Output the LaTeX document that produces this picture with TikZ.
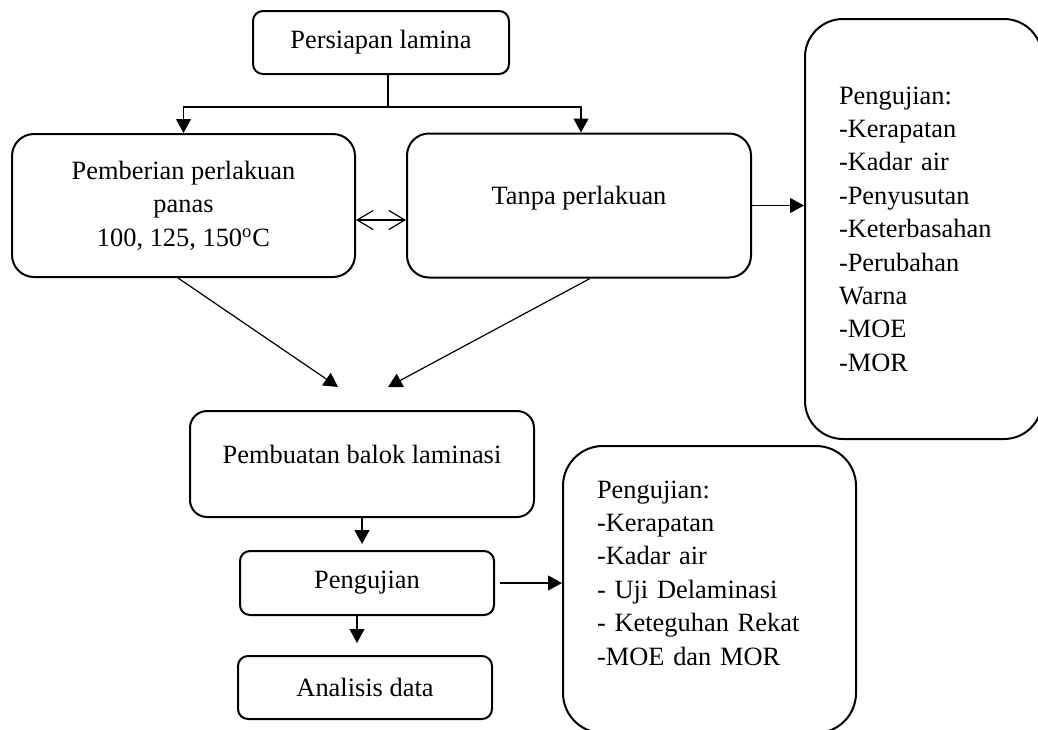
\documentclass[tikz,border=0pt]{standalone}
\usepackage{fontspec}
\setmainfont{Liberation Serif}
\usetikzlibrary{
  arrows.meta,
  positioning
}
\tikzset{
  % Rounded process box: corner radius as argument
  box/.style={
    rectangle, rounded corners=#1,
    draw=black, line width=1pt,
    inner sep=0pt, align=center,
    font=\fontsize{13.2}{16.7}\selectfont
  },
  box/.default=5pt,
  % Test list box
  lst/.style={
    box=#1, align=left, inner xsep=17pt
  },
  % Plain connector
  ln/.style={line width=0.6pt},
  % Arrow
  arr/.style={
    -{Triangle[length=7pt,width=7.5pt]},
    line width=0.6pt
  },
  % Open double arrow
  dbl/.style={
    {Straight Barb[length=8pt,width=9.5pt]}-{Straight Barb[length=8pt,width=9.5pt]},
    line width=0.6pt
  }
}

\begin{document}
\begin{tikzpicture}[x=0.5pt, y=-0.5pt]
  \useasboundingbox (0,0) rectangle (1038,729);

  \node[box, minimum width=128pt, minimum height=31.5pt] (prep) at (381,42.5) {Persiapan lamina};
  \node[box=11pt, minimum width=171.5pt, minimum height=71.5pt] (panas) at (183.5,205.5)
    {Pemberian perlakuan\\ panas\\ 100, 125, 150\textsuperscript{o}C};
  \node[box=11pt, minimum width=172pt, minimum height=72pt, text height=9pt, text depth=10pt,
        right=25pt of panas] (tanpa) {Tanpa perlakuan};
  \node[lst=19pt, minimum width=117.5pt, minimum height=210pt, text width=84.5pt] (uji1) at (923.5,229)
    {Pengujian:\\ -Kerapatan\\ -Kadar air\\ -Penyusutan\\ -Keterbasahan\\ -Perubahan\\ Warna\\ -MOE\\ -MOR};

  \node[box=8.5pt, minimum width=172pt, minimum height=53pt, text height=9pt, text depth=10pt] (balok) at (362,464)
    {Pembuatan balok laminasi};
  \node[box, minimum width=127pt, minimum height=32pt, below=16pt of balok, xshift=2.5pt] (uji) {Pengujian};
  \node[box, minimum width=127pt, minimum height=31.5pt, below=19.5pt of uji, xshift=-1pt] (data) {Analisis data};
  \node[lst=20pt, minimum width=146.5pt, minimum height=143.5pt, text width=112.5pt] (uji2) at (709.5,589.5)
    {Pengujian:\\ -Kerapatan\\ -Kadar air\\ - Uji Delaminasi\\ - Keteguhan Rekat\\ -MOE dan MOR\\ \mbox{}};

  \coordinate (split) at (388,107);
  \coordinate (inL) at (338,387);
  \coordinate (inR) at (388,387);

  \draw[ln]  (split |- prep.south) -- (split);
  \draw[arr] (split) -| (panas.north);
  \draw[arr] (split) -| ([xshift=1pt]tanpa.north);
  \draw[dbl] ([yshift=-7.25pt]panas.east) -- ([yshift=-7.25pt]panas.east -| tanpa.west);
  \draw[arr] (tanpa.east) -- (tanpa.east -| uji1.west);
  \draw[arr] ([xshift=-2.75pt]panas.south) -- (inL);
  \draw[arr] ([xshift=5.5pt]tanpa.south) -- (inR);
  \draw[arr] (balok.south) -- ([yshift=3pt]uji.north -| balok.south);
  \draw[arr] ([xshift=-5pt]uji.south) -- ([xshift=-5pt,yshift=6pt]uji.south |- data.north);
  \draw[arr] ([xshift=2.5pt]uji.east) -- (uji.east -| uji2.west);
\end{tikzpicture}
\end{document}
